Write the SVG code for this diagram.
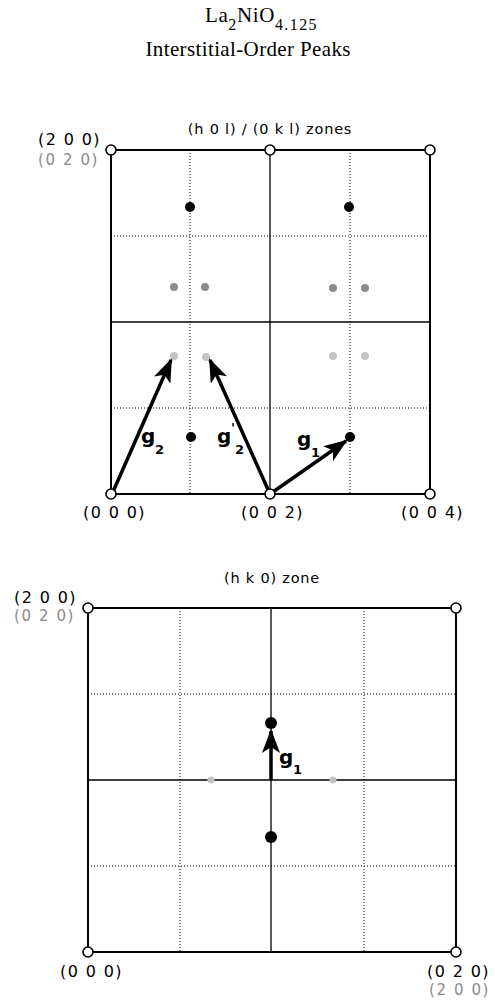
<svg xmlns="http://www.w3.org/2000/svg" width="495" height="1000" viewBox="0 0 495 1000">
<style>
.title{font-family:"Liberation Serif","DejaVu Serif",serif;font-size:21px;fill:#000}
.lbl{font-family:"DejaVu Sans","Liberation Sans",sans-serif;font-size:16px;fill:#000;letter-spacing:1.4px}
.lblg{font-family:"DejaVu Sans","Liberation Sans",sans-serif;font-size:15px;fill:#8a8a8a;letter-spacing:1.6px}
.zone{font-family:"DejaVu Sans","Liberation Sans",sans-serif;font-size:14.5px;fill:#000;letter-spacing:0.8px}
.g{font-family:"DejaVu Sans","Liberation Sans",sans-serif;font-weight:bold;font-size:20px;fill:#000}
.gs{font-family:"DejaVu Sans","Liberation Sans",sans-serif;font-weight:bold;font-size:13px;fill:#000}
.border{fill:none;stroke:#000;stroke-width:2}
.solid{stroke:#000;stroke-width:1.3}
.dot{stroke:#000;stroke-width:1;stroke-dasharray:1 2}
.corner{fill:#fff;stroke:#000;stroke-width:1.6}
.bdot{fill:#000}
.gd1{fill:#8c8c8c}
.gd2{fill:#c4c4c4}
.arrow{stroke:#000;stroke-width:3.5;fill:none;marker-end:url(#ah)}
</style>
<defs>
<marker id="ah" viewBox="0 0 24 18" refX="22" refY="9" markerWidth="24" markerHeight="18" markerUnits="userSpaceOnUse" orient="auto">
<path d="M0,0 L24,9 L0,18 L6,9 Z" fill="#000"/>
</marker>
</defs>
<g id="title">
<text class="title" x="205" y="22" letter-spacing="0.6">La<tspan font-size="16" dy="8">2</tspan><tspan dy="-8">NiO</tspan><tspan font-size="16" dy="8" letter-spacing="1.4">4.125</tspan></text>
<text class="title" x="248" y="56" text-anchor="middle" textLength="205">Interstitial-Order Peaks</text>
</g>

<g id="panel-top">
<g id="grid-top">
<line class="dot" x1="190" y1="150" x2="190" y2="494"/>
<line class="dot" x1="350" y1="150" x2="350" y2="494"/>
<line class="dot" x1="111" y1="236" x2="430" y2="236"/>
<line class="dot" x1="111" y1="408" x2="430" y2="408"/>
<line class="solid" x1="270" y1="150" x2="270" y2="494"/>
<line class="solid" x1="111" y1="322" x2="430" y2="322"/>
<rect class="border" x="111" y="150" width="319" height="344"/>
</g>
<text class="zone" x="270" y="134" text-anchor="middle">(h 0 l) / (0 k l)  zones</text>
<g id="peaks-top">
<circle class="bdot" cx="190" cy="207" r="5"/>
<circle class="bdot" cx="349" cy="207" r="5"/>
<circle class="bdot" cx="191" cy="437" r="5"/>
<circle class="bdot" cx="350" cy="437" r="5"/>
<circle class="gd1" cx="174" cy="287" r="4"/>
<circle class="gd1" cx="205" cy="287" r="4"/>
<circle class="gd1" cx="333" cy="288" r="4"/>
<circle class="gd1" cx="365" cy="288" r="4"/>
<circle class="gd2" cx="174" cy="356" r="4"/>
<circle class="gd2" cx="206" cy="357" r="4"/>
<circle class="gd2" cx="333" cy="356" r="4"/>
<circle class="gd2" cx="365" cy="356" r="4"/>
</g>
<g id="connectors-top">
<line class="arrow" x1="112" y1="494" x2="171" y2="360"/>
<line class="arrow" x1="270" y1="494" x2="210" y2="360"/>
<line class="arrow" x1="270" y1="494" x2="346" y2="441"/>
</g>
<g id="corners-top">
<circle class="corner" cx="111" cy="150" r="5"/>
<circle class="corner" cx="270" cy="150" r="5"/>
<circle class="corner" cx="430" cy="150" r="5"/>
<circle class="corner" cx="111" cy="494" r="5"/>
<circle class="corner" cx="270" cy="494" r="5"/>
<circle class="corner" cx="430" cy="494" r="5"/>
</g>
<g id="labels-top">
<text class="lbl" x="38" y="145">(2 0 0)</text>
<text class="lblg" x="38" y="165">(0 2 0)</text>
<text class="lbl" x="83" y="518">(0 0 0)</text>
<text class="lbl" x="241" y="518">(0 0 2)</text>
<text class="lbl" x="401" y="518">(0 0 4)</text>
<text class="g" x="141" y="443">g</text><text class="gs" x="155" y="454">2</text>
<text class="g" x="217" y="443">g</text><text class="gs" x="231" y="432">'</text><text class="gs" x="235" y="454">2</text>
<text class="g" x="297" y="446">g</text><text class="gs" x="311" y="457">1</text>
</g>
</g>

<g id="panel-bottom">
<g id="grid-bottom">
<line class="dot" x1="180" y1="608" x2="180" y2="952"/>
<line class="dot" x1="364" y1="608" x2="364" y2="952"/>
<line class="dot" x1="88" y1="694" x2="456" y2="694"/>
<line class="dot" x1="88" y1="866" x2="456" y2="866"/>
<line class="solid" x1="271" y1="608" x2="271" y2="952"/>
<line class="solid" x1="88" y1="780" x2="456" y2="780"/>
<rect class="border" x="88" y="608" width="368" height="344"/>
</g>
<text class="zone" x="272" y="583" text-anchor="middle">(h k 0) zone</text>
<g id="peaks-bottom">
<circle class="bdot" cx="271" cy="723" r="6"/>
<circle class="bdot" cx="271" cy="837" r="6"/>
<circle class="gd2" cx="211" cy="780" r="3.5"/>
<circle class="gd2" cx="333" cy="780" r="3.5"/>
</g>
<g id="connectors-bottom">
<line class="arrow" x1="271" y1="780" x2="271" y2="731"/>
</g>
<g id="corners-bottom">
<circle class="corner" cx="88" cy="608" r="5"/>
<circle class="corner" cx="456" cy="608" r="5"/>
<circle class="corner" cx="88" cy="952" r="5"/>
<circle class="corner" cx="456" cy="952" r="5"/>
</g>
<g id="labels-bottom">
<text class="lbl" x="14" y="603">(2 0 0)</text>
<text class="lblg" x="14" y="621">(0 2 0)</text>
<text class="lbl" x="60" y="977">(0 0 0)</text>
<text class="lbl" x="427" y="977">(0 2 0)</text>
<text class="lblg" x="429" y="995">(2 0 0)</text>
<text class="g" x="279" y="764">g</text><text class="gs" x="293" y="774">1</text>
</g>
</g>
</svg>
